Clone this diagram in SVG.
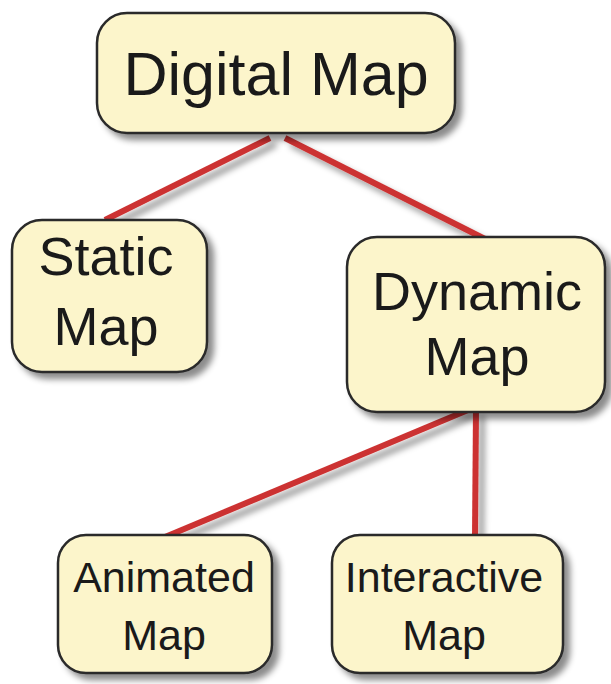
<svg xmlns="http://www.w3.org/2000/svg" width="611" height="684" viewBox="0 0 611 684">
<defs>
<filter id="sh" x="-20%" y="-20%" width="150%" height="150%">
<feDropShadow dx="6" dy="6" stdDeviation="3" flood-color="#000" flood-opacity="0.45"/>
</filter>
<filter id="lsh" filterUnits="userSpaceOnUse" x="0" y="0" width="611" height="684">
<feDropShadow dx="6" dy="6" stdDeviation="3" flood-color="#000" flood-opacity="0.4"/>
</filter>
</defs>
<style>
.box{fill:#fcf5cb;stroke:#2a2a2a;stroke-width:2.5;filter:url(#sh)}
.t{font-family:"Liberation Sans",Arial,sans-serif;fill:#1a1a1a;text-anchor:middle}
.ln{stroke:#cc3333;stroke-width:6;fill:none;filter:url(#lsh)}
</style>
<rect width="611" height="684" fill="#ffffff"/>
<g id="connectors">
<line class="ln" x1="270" y1="138" x2="105" y2="220"/>
<line class="ln" x1="285" y1="138" x2="485" y2="239"/>
<line class="ln" x1="468" y1="410" x2="165" y2="537"/>
<line class="ln" x1="476" y1="410" x2="475" y2="537"/>
</g>
<g id="digital">
<rect class="box" x="97" y="13" width="358" height="120" rx="30"/>
<text class="t" x="276" y="95" font-size="61">Digital Map</text>
</g>
<g id="static">
<rect class="box" x="12" y="220" width="195" height="152" rx="30"/>
<text class="t" x="106" y="275" font-size="54">Static</text>
<text class="t" x="106" y="345" font-size="54">Map</text>
</g>
<g id="dynamic">
<rect class="box" x="347" y="237" width="258" height="175" rx="30"/>
<text class="t" x="477" y="310" font-size="54">Dynamic</text>
<text class="t" x="477" y="375" font-size="54">Map</text>
</g>
<g id="animated">
<rect class="box" x="58" y="535" width="214" height="138" rx="28"/>
<text class="t" x="164" y="592" font-size="43">Animated</text>
<text class="t" x="164" y="650" font-size="43">Map</text>
</g>
<g id="interactive">
<rect class="box" x="332" y="535" width="231" height="138" rx="28"/>
<text class="t" x="444" y="592" font-size="43">Interactive</text>
<text class="t" x="444" y="650" font-size="43">Map</text>
</g>
</svg>
